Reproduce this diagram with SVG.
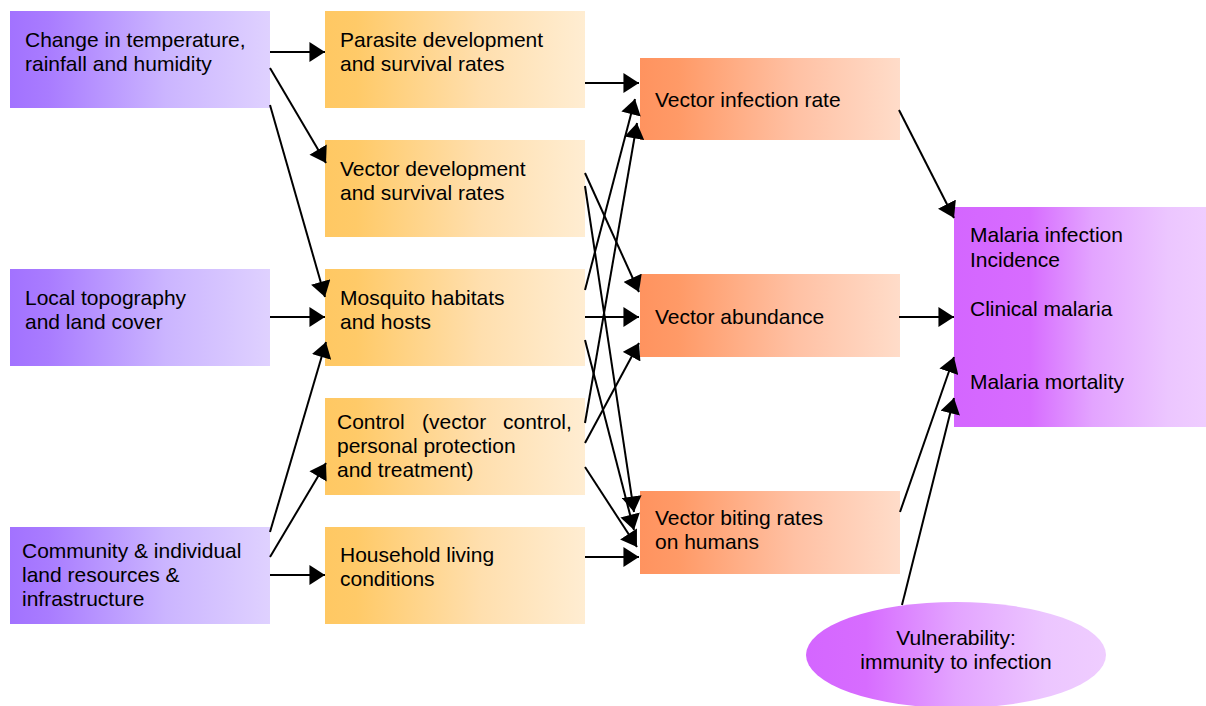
<svg xmlns="http://www.w3.org/2000/svg" width="1206" height="706" viewBox="0 0 1206 706">
<style>
text{font-family:"Liberation Sans",Arial,sans-serif;font-size:21px;fill:#000}
.c line{stroke:#000;stroke-width:2;marker-end:url(#ah)}
</style>
<defs>
<linearGradient id="gp" x1="0" y1="0" x2="1" y2="0"><stop offset="0" stop-color="#a272ff"/><stop offset="0.15" stop-color="#a97cff"/><stop offset="0.6" stop-color="#cbb5ff"/><stop offset="1" stop-color="#dfd1ff"/></linearGradient>
<linearGradient id="go" x1="0" y1="0" x2="1" y2="0"><stop offset="0" stop-color="#ffc863"/><stop offset="0.12" stop-color="#ffca68"/><stop offset="0.6" stop-color="#ffdfae"/><stop offset="1" stop-color="#ffedd2"/></linearGradient>
<linearGradient id="gs" x1="0" y1="0" x2="1" y2="0"><stop offset="0" stop-color="#ff935f"/><stop offset="0.15" stop-color="#ff9a67"/><stop offset="0.6" stop-color="#ffc1a4"/><stop offset="1" stop-color="#ffdcc9"/></linearGradient>
<linearGradient id="gm" x1="0" y1="0" x2="1" y2="0"><stop offset="0" stop-color="#d466ff"/><stop offset="0.3" stop-color="#d76cff"/><stop offset="0.55" stop-color="#e3a4ff"/><stop offset="0.85" stop-color="#ecc6ff"/><stop offset="1" stop-color="#efcdff"/></linearGradient>
<linearGradient id="ge" x1="0" y1="0" x2="1" y2="0"><stop offset="0" stop-color="#d466ff"/><stop offset="0.2" stop-color="#d76cff"/><stop offset="0.5" stop-color="#e3a4ff"/><stop offset="0.8" stop-color="#ecc6ff"/><stop offset="1" stop-color="#efcdff"/></linearGradient>
<marker id="ah" markerUnits="userSpaceOnUse" markerWidth="16" markerHeight="20" viewBox="0 0 14 18" refX="14" refY="9" orient="auto"><path d="M0,0 L14,9 L0,18 z" fill="#000"/></marker>
</defs>
<rect width="1206" height="706" fill="#fff"/>

<g id="climate"><rect x="10" y="11" width="260" height="97" fill="url(#gp)"/><text x="25" y="47">Change in temperature,</text><text x="25" y="71">rainfall and humidity</text></g>
<g id="topography"><rect x="10" y="269" width="260" height="97" fill="url(#gp)"/><text x="25" y="305">Local topography</text><text x="25" y="329">and land cover</text></g>
<g id="community"><rect x="10" y="527" width="260" height="97" fill="url(#gp)"/><text x="22" y="558">Community &amp; individual</text><text x="22" y="582">land resources &amp;</text><text x="22" y="606">infrastructure</text></g>

<g id="parasite"><rect x="325" y="11" width="260" height="97" fill="url(#go)"/><text x="340" y="47">Parasite development</text><text x="340" y="71">and survival rates</text></g>
<g id="vectordev"><rect x="325" y="140" width="260" height="97" fill="url(#go)"/><text x="340" y="176">Vector development</text><text x="340" y="200">and survival rates</text></g>
<g id="habitats"><rect x="325" y="269" width="260" height="97" fill="url(#go)"/><text x="340" y="305">Mosquito habitats</text><text x="340" y="329">and hosts</text></g>
<g id="control"><rect x="325" y="398" width="260" height="97" fill="url(#go)"/><text y="429"><tspan x="337">Control</tspan><tspan x="422">(vector</tspan><tspan x="503">control,</tspan></text><text x="337" y="453">personal protection</text><text x="337" y="477">and treatment)</text></g>
<g id="household"><rect x="325" y="527" width="260" height="97" fill="url(#go)"/><text x="340" y="562">Household living</text><text x="340" y="586">conditions</text></g>

<g id="infection"><rect x="640" y="58" width="260" height="82" fill="url(#gs)"/><text x="655" y="107">Vector infection rate</text></g>
<g id="abundance"><rect x="640" y="274" width="260" height="83" fill="url(#gs)"/><text x="655" y="324">Vector abundance</text></g>
<g id="biting"><rect x="640" y="491" width="260" height="83" fill="url(#gs)"/><text x="655" y="525">Vector biting rates</text><text x="655" y="549">on humans</text></g>

<g id="malaria"><rect x="954" y="207" width="252" height="220" fill="url(#gm)"/><text x="970" y="242">Malaria infection</text><text x="970" y="267">Incidence</text><text x="970" y="316">Clinical malaria</text><text x="970" y="389">Malaria mortality</text></g>
<g id="vulnerability"><ellipse cx="956" cy="655" rx="150" ry="53" fill="url(#ge)"/><text x="956" y="645" text-anchor="middle">Vulnerability:</text><text x="956" y="669" text-anchor="middle">immunity to infection</text></g>

<g id="connectors" class="c">
<line x1="270" y1="52" x2="325" y2="52"/>
<line x1="270" y1="68" x2="326" y2="163"/>
<line x1="270" y1="105" x2="325" y2="297"/>
<line x1="270" y1="317" x2="325" y2="317"/>
<line x1="270" y1="532" x2="326" y2="342"/>
<line x1="270" y1="557" x2="326" y2="463"/>
<line x1="270" y1="575" x2="325" y2="575"/>
<line x1="585" y1="83" x2="639" y2="83"/>
<line x1="585" y1="173" x2="639" y2="292"/>
<line x1="585" y1="186" x2="634" y2="512"/>
<line x1="585" y1="290" x2="635" y2="99"/>
<line x1="585" y1="317" x2="639" y2="317"/>
<line x1="585" y1="340" x2="634" y2="530"/>
<line x1="585" y1="423" x2="637" y2="123"/>
<line x1="585" y1="443" x2="639" y2="343"/>
<line x1="585" y1="467" x2="637" y2="547"/>
<line x1="585" y1="557" x2="639" y2="557"/>
<line x1="899" y1="110" x2="954" y2="218"/>
<line x1="899" y1="317" x2="954" y2="317"/>
<line x1="900" y1="512" x2="954" y2="357"/>
<line x1="902" y1="605" x2="954" y2="398"/>
</g>
</svg>
